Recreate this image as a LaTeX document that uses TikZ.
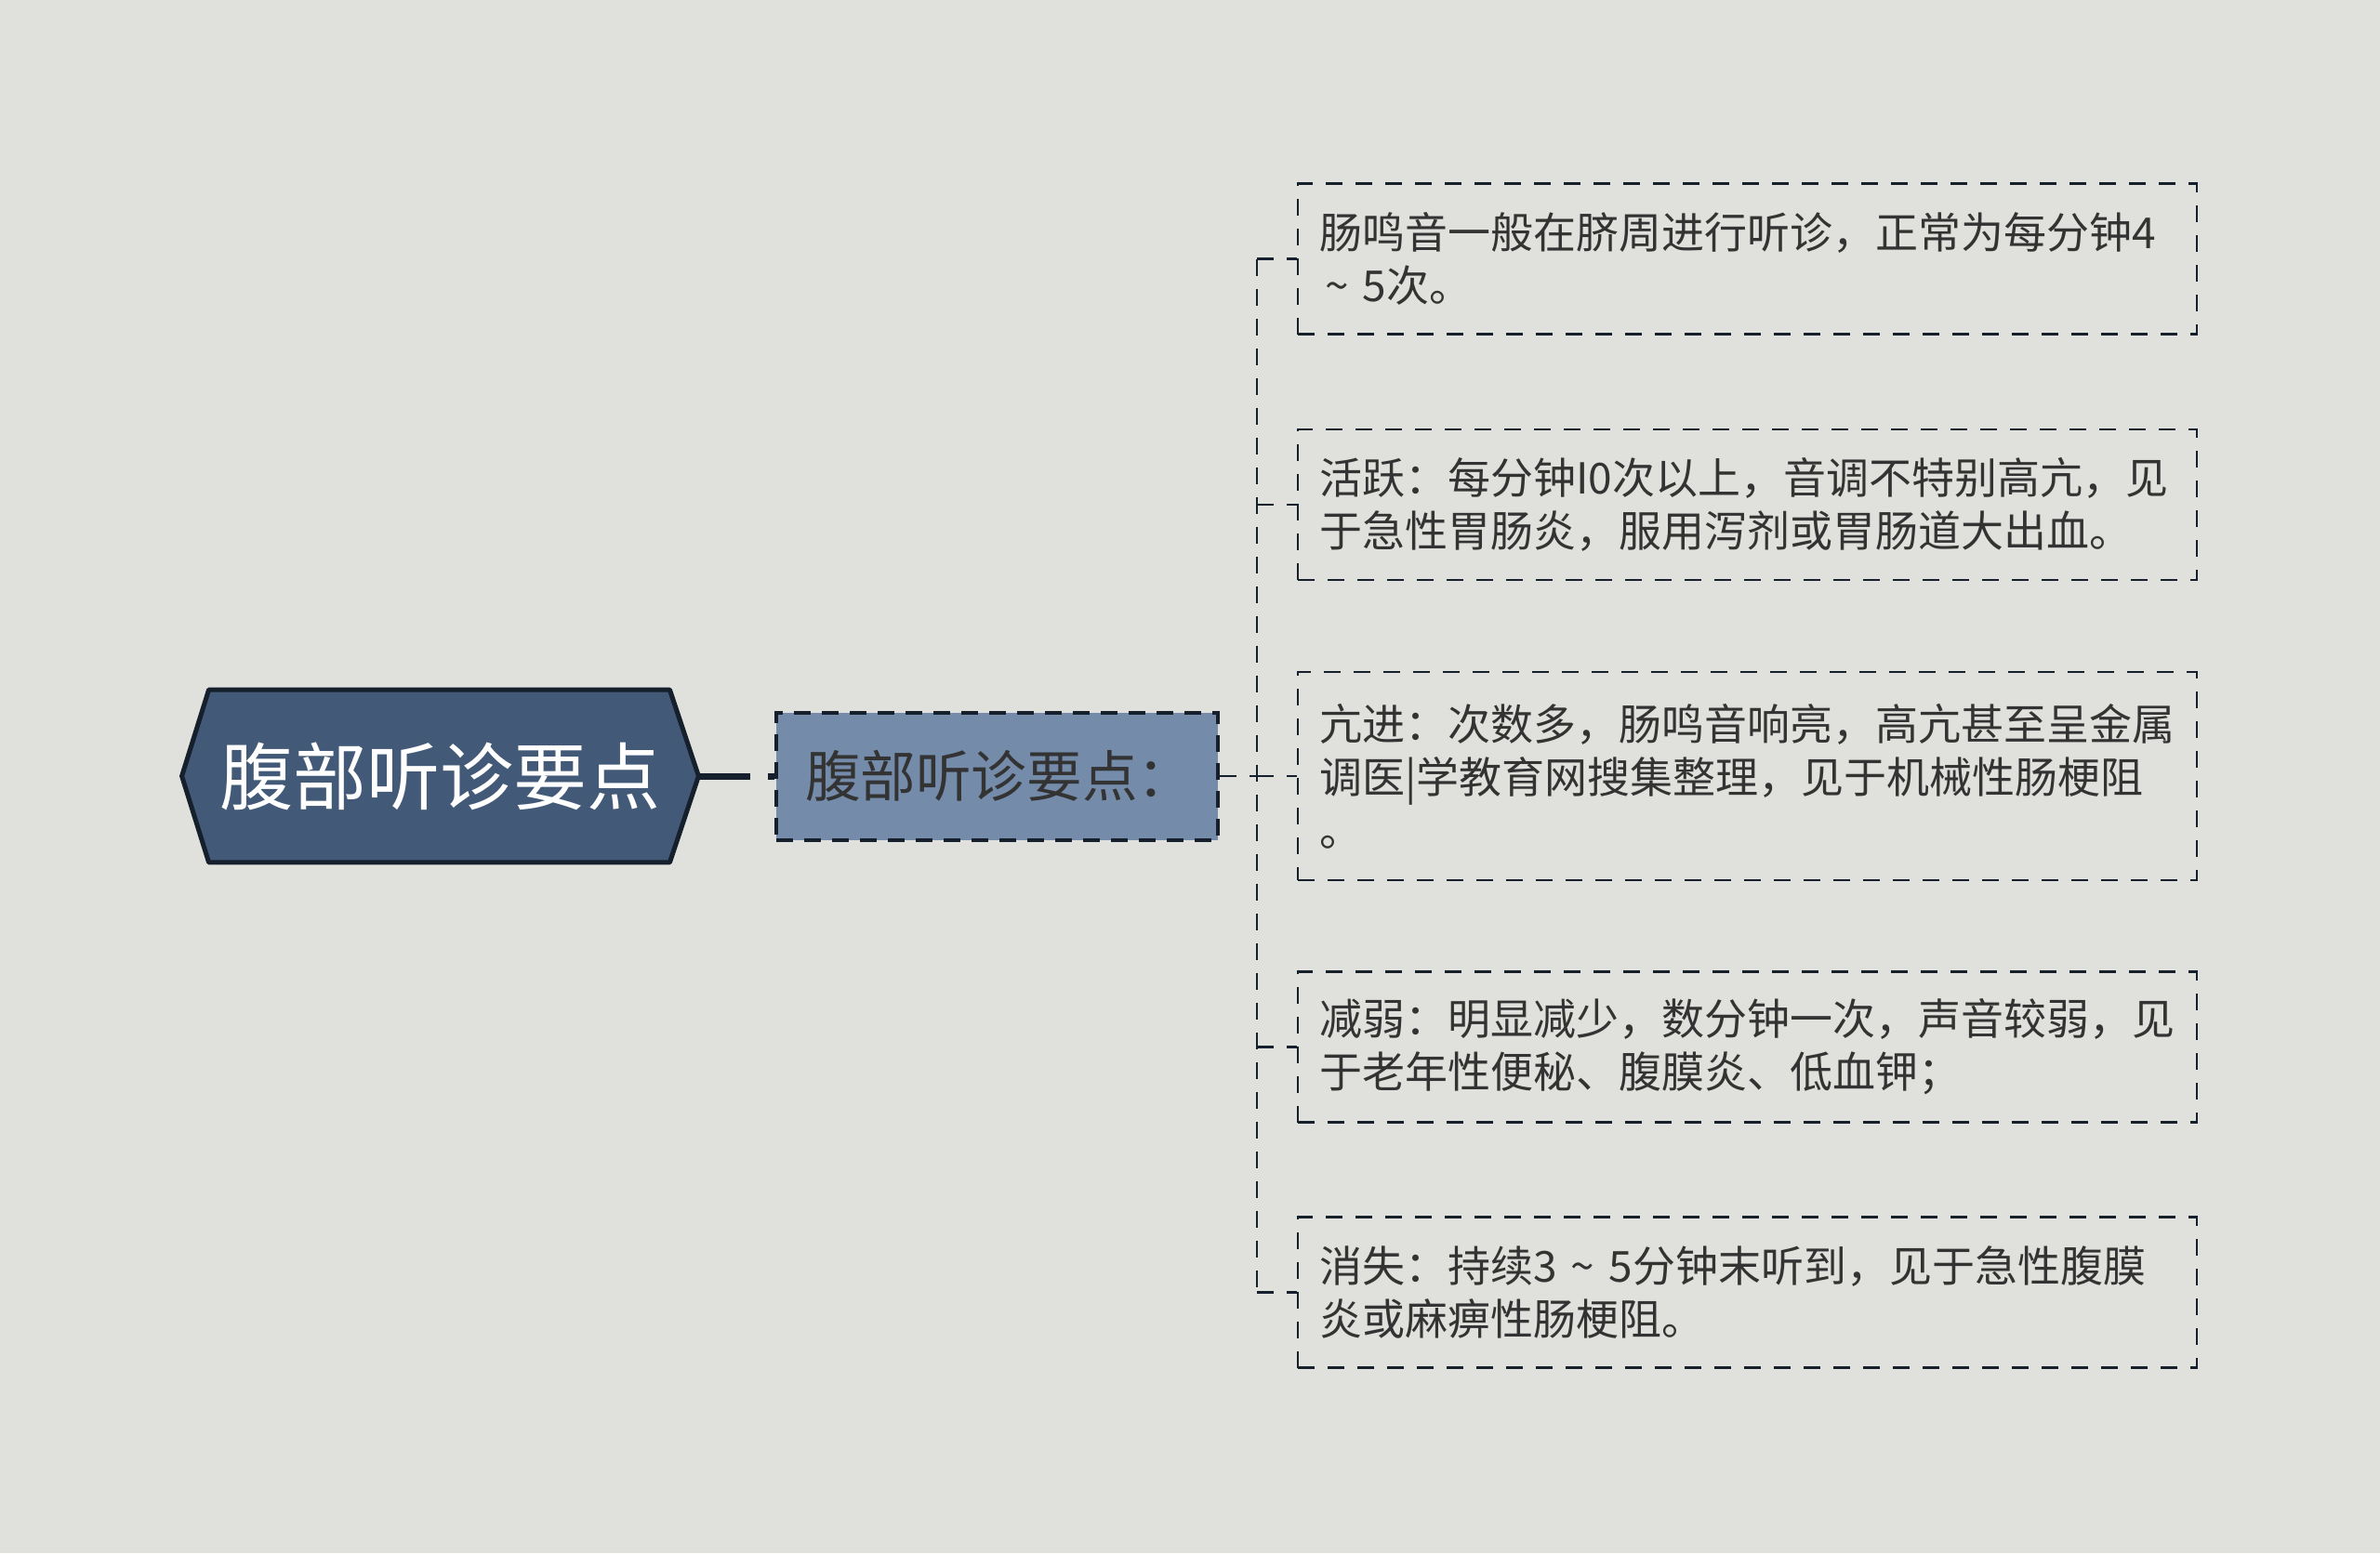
\documentclass[tikz,border=0pt]{standalone}
\usepackage{fontspec}
\usepackage{tikz}
\usetikzlibrary{positioning}
\usetikzlibrary{backgrounds}
\newfontfamily\cjk{Noto Sans CJK SC}
\definecolor{bgcol}{RGB}{224,225,220}
\definecolor{rootcol}{RGB}{66,89,120}
\definecolor{midcol}{RGB}{116,139,170}
\definecolor{linecol}{RGB}{22,32,45}
\definecolor{txtcol}{RGB}{51,51,51}

\begin{document}
\begin{tikzpicture}[node distance=400pt,
    link/.style={draw=linecol, line width=1.4pt, dash pattern=on 9pt off 7pt},
    leaf/.style={link, text width=460.5pt, inner xsep=11.5pt, inner ysep=0pt,
      minimum height=81pt, align=left, text=txtcol,
      font=\cjk\fontsize{23pt}{28.5pt}\selectfont}]
            \useasboundingbox (0,0) rectangle (1280pt,-835.5pt);

            \node[minimum width=277.5pt, minimum height=92.5pt, inner sep=0pt, text=white,
              font=\cjk\fontsize{39.5pt}{45pt}\selectfont] (root) at (236.75pt,-417.5pt) {腹部听诊要点};
            \node[link, line width=2pt, dash pattern=on 9pt off 6pt, fill=midcol, minimum width=237.5pt,
              minimum height=68.5pt, text width=206.5pt, inner xsep=15.5pt, align=left, text=txtcol,
              font=\cjk\fontsize{29.8pt}{33pt}\selectfont,
              right of=root, node distance=299.5pt] (mid) {腹部听诊要点：};
            \coordinate[right of=mid, node distance=139.75pt] (bus);

            \node[leaf, minimum height=112pt, right of=mid, node distance=403.5pt] (b3) {亢进：次数多，肠鸣音响亮，高亢甚至呈金属\\调医|学教育网搜集整理，见于机械性肠梗阻\\。};
            \node[leaf, above of=b3, node distance=146pt] (b2) {活跃：每分钟I0次以上，音调不特别高亢，见\\于急性胃肠炎，服用泻剂或胃肠道大出血。};
            \node[leaf, above of=b2, node distance=132.25pt] (b1) {肠鸣音一般在脐周进行听诊，正常为每分钟4\\\hspace*{3pt}\textasciitilde\ 5次。};
            \node[leaf, below of=b3, node distance=145.75pt] (b4) {减弱：明显减少，数分钟一次，声音较弱，见\\于老年性便秘、腹膜炎、低血钾；};
            \node[leaf, below of=b4, node distance=132pt] (b5) {消失：持续3 \textasciitilde\ 5分钟末听到，见于急性腹膜\\炎或麻痹性肠梗阻。};

            \begin{scope}[on background layer]
              \fill[bgcol] (0,0) rectangle (1280pt,-835.5pt);
              \filldraw[fill=rootcol, draw=linecol, line width=2.5pt, line join=round]
                (root.west) -- ([xshift=14.5pt]root.north west) -- ([xshift=-15.5pt]root.north east)
                -- (root.east) -- ([xshift=-15.5pt]root.south east) -- ([xshift=14.5pt]root.south west) -- cycle;
            \end{scope}

            \path[draw=linecol, line width=3.5pt, dash pattern=on 28pt off 9.5pt] (root.east) edge (mid.west);
            \draw[link] (bus |- b1.west) -- (bus |- b5.west);

            \path[link]
            (mid.east) edge (bus)
            (bus |- b1.west) edge (b1.west)
            (bus |- b2.west) edge (b2.west)
            (bus |- b3.west) edge (b3.west)
            (bus |- b4.west) edge (b4.west)
            (bus |- b5.west) edge (b5.west);
          \end{tikzpicture}
\end{document}
